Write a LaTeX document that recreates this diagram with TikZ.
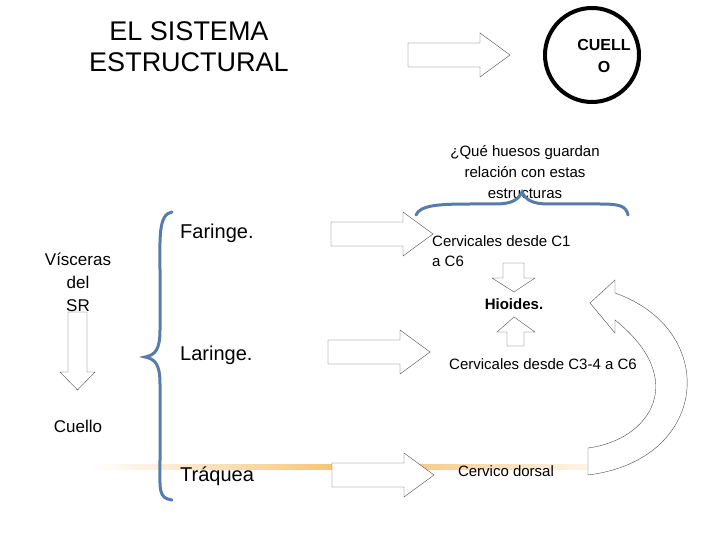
\documentclass[tikz,border=0pt]{standalone}
\usepackage{fontspec}
\setmainfont{Liberation Sans}
\usetikzlibrary{positioning}
\definecolor{bracecol}{RGB}{88,124,170}
\definecolor{glow}{RGB}{245,190,110}
\tikzset{
  blockarrow/.style={draw=black!70, thin, fill=white},
  brace/.style={draw=bracecol, line width=3pt, line cap=round},
  txt/.style={inner sep=0pt, align=center, font=\fontsize{16}{19}\selectfont}
}
\begin{document}
\begin{tikzpicture}[x=1pt,y=-1pt]
            \useasboundingbox (0,0) rectangle (720,540);
            % glow line
            \shade[left color=white, right color=glow] (90,464) rectangle (360,469);
            \shade[left color=glow, right color=white] (360,464) rectangle (630,469);

            \node[txt, font=\fontsize{27}{31}\selectfont] (title) at (189,47) {EL SISTEMA\\ESTRUCTURAL};
            \draw[black, line width=4pt] (592,55) circle (47);
            \node[txt, font=\bfseries\fontsize{16}{22}\selectfont] (cuello) at (604,56) {CUELL\\O};
            \node[txt, font=\fontsize{15}{21}\selectfont] (pregunta) at (525,172) {¿Qué huesos guardan\\relación con estas\\estructuras};

            % block arrows to the right
            \foreach \x/\y in {408/55, 331/234, 328/352, 332/475}
            {
            \draw[blockarrow] (\x,\y-12) -- (\x+72,\y-12) -- (\x+72,\y-22) -- (\x+102-30,\y-22) -- (\x+102-30+30,\y) -- (\x+72,\y+22) -- (\x+72,\y+12) -- (\x,\y+12) -- cycle;
            }

            \node[txt, font=\fontsize{17}{23}\selectfont] (visceras) at (78,282) {Vísceras\\del\\SR};
            \draw[blockarrow] (68,312) -- (87,312) -- (87,372) -- (95,372) -- (77.5,390) -- (60,372) -- (68,372) -- cycle;
            \node[txt, font=\fontsize{17}{20}\selectfont] (cuellotxt) at (78,426) {Cuello};

            % left brace
            \draw[brace] (172,212) .. controls (158,214) and (160,240) .. (160,270) -- (160,330) .. controls (160,350) and (155,355) .. (145,357)
                         .. controls (155,359) and (160,364) .. (160,384) -- (160,460) .. controls (160,490) and (158,498) .. (172,500);
            \node[txt, anchor=west, font=\fontsize{20}{24}\selectfont] (faringe) at (180,233) {Faringe.};
            \node[txt, anchor=west, font=\fontsize{20}{24}\selectfont] (laringe) at (180,355) {Laringe.};
            \node[txt, anchor=west, font=\fontsize{20}{24}\selectfont] (traquea) at (180,476) {Tráquea};

            % top brace
            \draw[brace] (416,215) .. controls (420,205) and (440,204) .. (470,204) -- (495,204) .. controls (512,204) and (518,200) .. (522,192)
                         .. controls (526,200) and (532,204) .. (549,204) -- (600,204) .. controls (620,204) and (626,206) .. (628,215);

            \node[txt, anchor=west, align=left, font=\fontsize{15}{20}\selectfont] (c1) at (432,251) {Cervicales desde C1\\a C6};
            \draw[blockarrow] (503,263) -- (524,263) -- (524,278) -- (535,278) -- (514,292) -- (492,278) -- (503,278) -- cycle;
            \node[txt, font=\bfseries\fontsize{15}{18}\selectfont] (hioides) at (514,304) {Hioides.};
            \draw[blockarrow] (514,317) -- (535,332) -- (524,332) -- (524,346) -- (507,346) -- (507,332) -- (497,332) -- cycle;
            \node[txt, font=\fontsize{15}{18}\selectfont] (c34) at (543,364) {Cervicales desde C3-4 a C6};
            \node[txt, font=\fontsize{15}{18}\selectfont] (dorsal) at (506,471) {Cervico dorsal};

            % curved arrow back to Hioides
            \draw[blockarrow] (588,448) .. controls (650,440) and (690,380) .. (615,320)
                 -- (615,333) -- (590,303) -- (615,280) -- (615,293)
                 .. controls (720,330) and (710,460) .. (588,475) -- cycle;
\end{tikzpicture}
\end{document}
